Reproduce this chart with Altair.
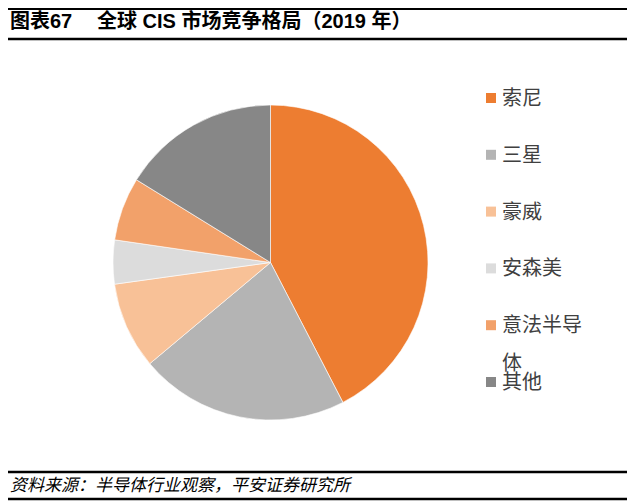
import altair as alt
import pandas as pd

names = ["索尼", "三星", "豪威", "安森美", "意法半导体", "其他"]
labels = ["索尼", "三星", "豪威", "安森美", "意法半导\n体", "其他"]
shares = [42.4, 21.5, 8.9, 4.5, 6.5, 16.2]
colors = ["#ED7D31", "#B4B4B4", "#F8C197", "#DCDCDC", "#F2A16A", "#878787"]
title_prefix = "图表67"
title_text = "全球 CIS 市场竞争格局（2019 年）"
source_text = "资料来源：半导体行业观察，平安证券研究所"

FONT = "Liberation Sans, Noto Sans CJK SC"
CJK = "Noto Sans CJK SC"

df = pd.DataFrame({"name": names, "label": labels, "value": shares,
                   "order": list(range(len(names)))})
one = pd.DataFrame({"k": [0]})

color_scale = alt.Scale(domain=names, range=colors)

pie = alt.Chart(df).mark_arc(radius=157.5, stroke="white", strokeWidth=0.6).encode(
    theta=alt.Theta("value:Q", stack=True),
    order=alt.Order("order:Q"),
    color=alt.Color("name:N", scale=color_scale, legend=None),
    x=alt.value(262.5),
    y=alt.value(254.5),
)

ypos = alt.Y("name:N", scale=alt.Scale(type="point", domain=names, range=[90, 374], padding=0), axis=None)

leg_sq = alt.Chart(df).mark_square(size=100, opacity=1).encode(
    x=alt.value(483),
    y=ypos,
    color=alt.Color("name:N", scale=color_scale, legend=None),
)

leg_txt = alt.Chart(df).mark_text(
    align="left", baseline="alphabetic", dy=7, font=CJK, fontSize=20,
    color="#404040", lineBreak="\n", lineHeight=38,
).encode(
    x=alt.value(494),
    y=ypos,
    text="label:N",
)

def rule(y, w):
    return alt.Chart(one).mark_rule(color="black", strokeWidth=w).encode(
        x=alt.value(0), x2=alt.value(619), y=alt.value(y))

t1 = alt.Chart(one).mark_text(align="left", baseline="middle", font=FONT, fontSize=20,
                              fontWeight="bold", color="black").encode(
    x=alt.value(2), y=alt.value(14), text=alt.value(title_prefix))
t2 = alt.Chart(one).mark_text(align="left", baseline="middle", font=FONT, fontSize=20,
                              fontWeight="bold", color="black").encode(
    x=alt.value(89), y=alt.value(14), text=alt.value(title_text))
foot = alt.Chart(one).mark_text(align="left", baseline="middle", font=CJK, fontSize=17,
                                fontStyle="italic", color="black").encode(
    x=alt.value(2), y=alt.value(478), text=alt.value(source_text))

chart = alt.layer(
    rule(1, 2), rule(31, 2.5), rule(464, 2.5), rule(491, 2.5),
    t1, t2, foot, pie, leg_sq, leg_txt,
).properties(
    width=624, height=493, autosize=alt.AutoSizeParams(type="none"), padding=0,
).configure_view(stroke=None)

chart.save("out.html", embed_options={"renderer": "svg", "actions": False})
